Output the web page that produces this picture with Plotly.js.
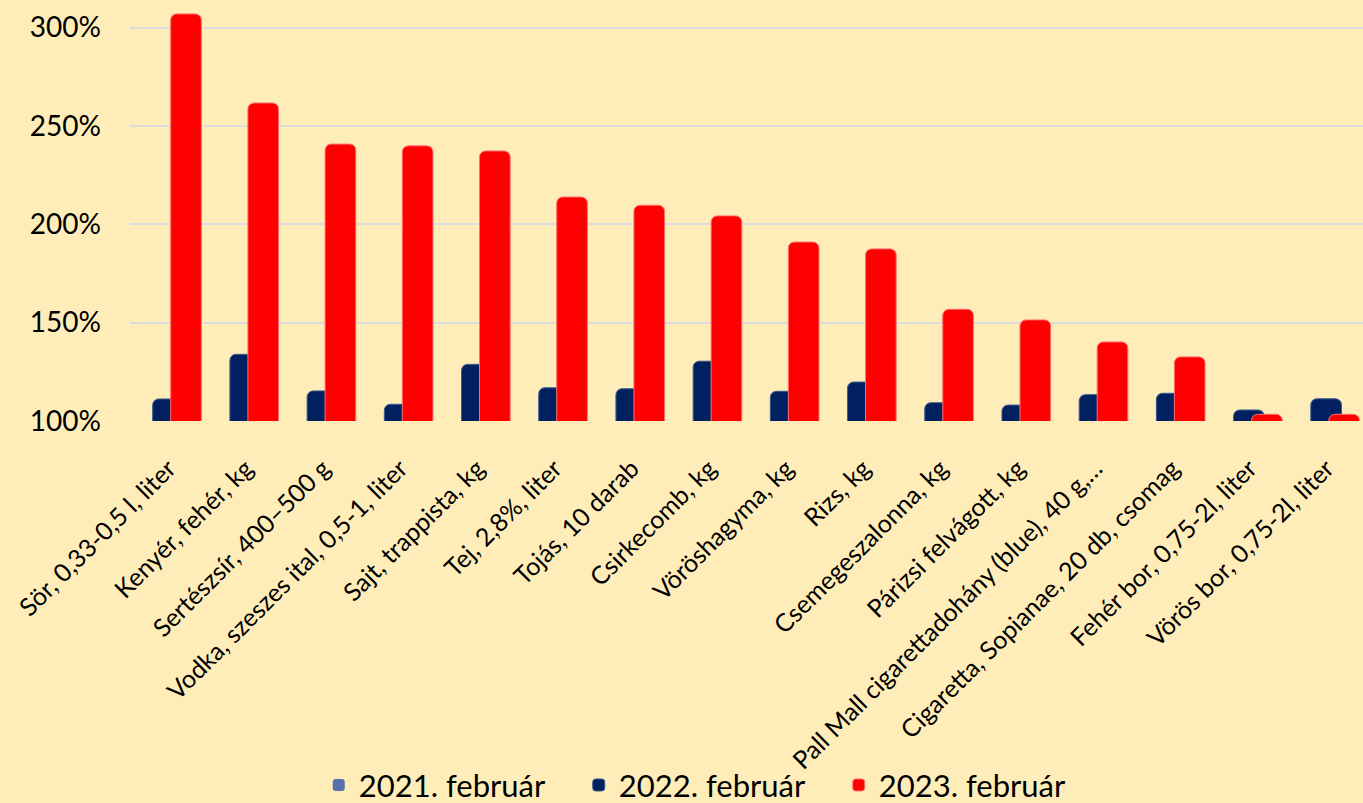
<!DOCTYPE html>
<html>
<head>
<meta charset="utf-8">
<script src="https://cdn.plot.ly/plotly-3.0.1.min.js"></script>
<style>
  html, body { margin: 0; padding: 0; background: #FFEDB9; }
  #chart { width: 1363px; height: 803px; }
</style>
</head>
<body>
<div id="chart"></div>
<script>
const categories = [
  "Sör, 0,33-0,5 l, liter",
  "Kenyér, fehér, kg",
  "Sertészsír, 400–500 g",
  "Vodka, szeszes ital, 0,5-1, liter",
  "Sajt, trappista, kg",
  "Tej, 2,8%, liter",
  "Tojás, 10 darab",
  "Csirkecomb, kg",
  "Vöröshagyma, kg",
  "Rizs, kg",
  "Csemegeszalonna, kg",
  "Párizsi felvágott, kg",
  "Pall Mall cigarettadohány (blue), 40 g,…",
  "Cigaretta, Sopianae, 20 db, csomag",
  "Fehér bor, 0,75-2l, liter",
  "Vörös bor, 0,75-2l, liter"
];
const seriesNames = ["2021. február", "2022. február", "2023. február"];
const values2021 = [100, 100, 100, 100, 100, 100, 100, 100, 100, 100, 100, 100, 100, 100, 100, 100];
const values2022 = [111.2, 133.9, 115.3, 108.5, 128.8, 116.9, 116.4, 130.4, 115.1, 119.8, 109.3, 108.1, 113.4, 114.1, 105.6, 111.3];
const values2023 = [307.0, 261.7, 240.8, 239.9, 237.3, 213.9, 209.7, 204.3, 191.0, 187.5, 156.8, 151.4, 140.2, 132.6, 103.4, 103.4];
const yTickVals = [100, 150, 200, 250, 300];
const yTickText = yTickVals.map(v => v + "%");

const colors = ["#5570AA", "#002060", "#FF0000"];
const edgeColors = ["#5570AA", "#3b5a8f", "#ff7070"];
const edgeWidths = [0, 1, 1];
const offsets = [-0.44, -0.206, 0.027];
const barWidth = 0.397;
const allValues = [values2021, values2022, values2023];

const traces = allValues.map((vals, i) => ({
  type: "bar",
  name: seriesNames[i],
  x: categories,
  y: vals,
  offset: offsets[i],
  width: barWidth,
  marker: {
    color: colors[i],
    cornerradius: 6,
    line: { color: edgeColors[i], width: edgeWidths[i] }
  },
  hovertemplate: "%{x}<br>%{y:.1f}%<extra>" + seriesNames[i] + "</extra>"
}));

const layout = {
  width: 1363,
  height: 803,
  paper_bgcolor: "#FFEDB9",
  plot_bgcolor: "#FFEDB9",
  barmode: "overlay",
  margin: { l: 130, r: 0, t: 8, b: 382 },
  font: { family: "Lato, 'Noto Sans', sans-serif", color: "#000000" },
  showlegend: true,
  legend: {
    orientation: "h",
    x: 0.52,
    xanchor: "center",
    xref: "container",
    y: 0.022,
    yref: "container",
    yanchor: "middle",
    font: { size: 31, color: "#000000" },
    bgcolor: "rgba(0,0,0,0)",
    traceorder: "normal",
    entrywidth: 215,
    entrywidthmode: "pixels"
  },
  xaxis: {
    type: "category",
    range: [-0.5, 15.47],
    tickangle: -45,
    tickfont: { size: 25, color: "#000000" },
    showgrid: false,
    ticks: "",
    showline: false,
    zeroline: false,
    ticklabelstandoff: 27,
    fixedrange: true
  },
  yaxis: {
    range: [100, 310],
    tickmode: "array",
    tickvals: yTickVals,
    ticktext: yTickText,
    tickfont: { size: 28, color: "#000000" },
    showgrid: true,
    gridcolor: "#DCDCDE",
    gridwidth: 1.5,
    zeroline: false,
    showline: false,
    ticks: "",
    ticklabelstandoff: 28,
    fixedrange: true
  }
};

Plotly.newPlot("chart", traces, layout, { displayModeBar: false, responsive: false });
</script>
</body>
</html>
